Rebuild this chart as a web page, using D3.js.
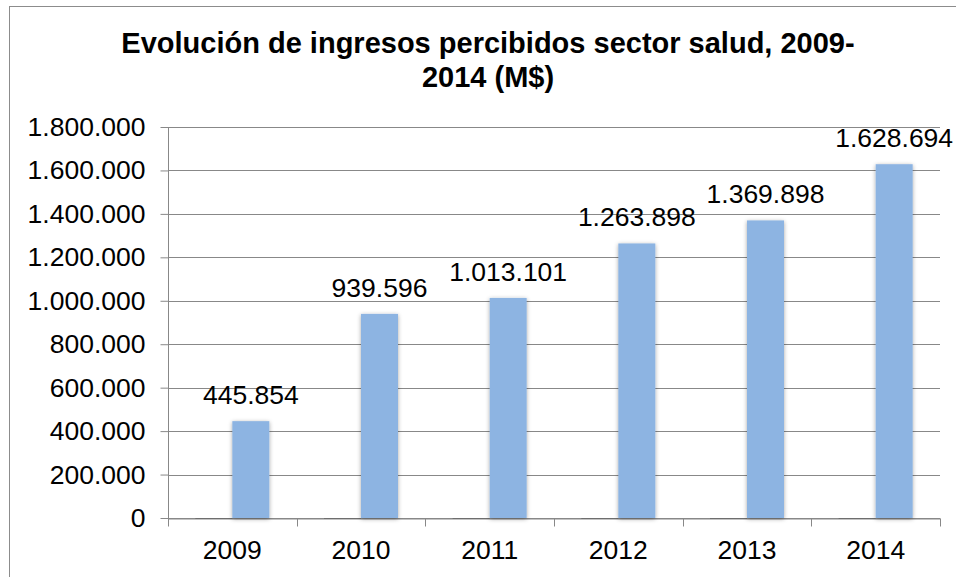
<!DOCTYPE html>
<html>
<head>
<meta charset="utf-8">
<script src="https://cdn.jsdelivr.net/npm/d3@7"></script>
<style>
  body { margin: 0; background: #ffffff; }
  text { font-family: "Liberation Sans", Arial, sans-serif; }
</style>
</head>
<body>
<div id="chart"></div>
<script>
// ----------- Data ----------
var years = ["2009", "2010", "2011", "2012", "2013", "2014"];
var emptySeries = [0, 0, 0, 0, 0, 0];
var ingresos = [445854, 939596, 1013101, 1263898, 1369898, 1628694];
var yTicks = [0, 200000, 400000, 600000, 800000, 1000000, 1200000, 1400000, 1600000, 1800000];
var titleLines = ["Evolución de ingresos percibidos sector salud, 2009-", "2014 (M$)"];

var width = 956, height = 577;
var margin = { left: 168, right: 16, top: 127, bottom: 59 };
var barWidth = 37;

// format 1628694 -> 1.628.694
var fmt = d3.formatLocale({ decimal: ",", thousands: ".", grouping: [3], currency: ["$", ""] }).format(",d");

var svg = d3.select("#chart")
  .append("svg")
  .attr("width", width)
  .attr("height", height);

// soft shadow around the bars
var filter = svg.append("defs").append("filter")
  .attr("id", "shadow")
  .attr("x", "-30%").attr("y", "-10%")
  .attr("width", "160%").attr("height", "120%");
filter.append("feDropShadow")
  .attr("dx", 0).attr("dy", 1)
  .attr("stdDeviation", 2)
  .attr("flood-color", "#000")
  .attr("flood-opacity", 0.35);

// chart border (right / bottom side fall outside the picture)
svg.append("rect")
  .attr("x", 9.5).attr("y", 6.5)
  .attr("width", 1000).attr("height", 700)
  .attr("fill", "none")
  .attr("stroke", "#8c8c8c");

// ----------- Title ----------
svg.append("g")
  .selectAll("text")
  .data(titleLines)
  .enter().append("text")
  .attr("x", 488)
  .attr("y", function(d, i) { return 53 + i * 34; })
  .attr("text-anchor", "middle")
  .style("font-size", "29px")
  .style("font-weight", "bold")
  .text(function(d) { return d; });

// ----------- Scales ----------
var x = d3.scaleBand()
  .domain(years)
  .range([margin.left, width - margin.right]);

var y = d3.scaleLinear()
  .domain([0, 1800000])
  .range([height - margin.bottom, margin.top]);

// ----------- Grid lines ----------
svg.append("g")
  .selectAll("line")
  .data(yTicks)
  .enter().append("line")
  .attr("x1", margin.left)
  .attr("x2", width - margin.right)
  .attr("y1", function(d) { return Math.round(y(d)) + 0.5; })
  .attr("y2", function(d) { return Math.round(y(d)) + 0.5; })
  .attr("stroke", "#888888");

// ----------- Y AXIS ----------
var yAxis = svg.append("g")
  .attr("transform", "translate(" + (margin.left + 0.5) + ",0)")
  .call(d3.axisLeft(y).tickValues(yTicks).tickFormat(fmt).tickSize(8).tickPadding(15));
yAxis.select(".domain").remove();
yAxis.selectAll("line").attr("stroke", "#888888");
yAxis.selectAll("text").style("font-size", "26.5px").attr("fill", "#000");
svg.append("line")
  .attr("x1", margin.left + 0.5).attr("x2", margin.left + 0.5)
  .attr("y1", margin.top).attr("y2", y(0) + 8)
  .attr("stroke", "#888888");

// ----------- X AXIS ----------
var xAxis = svg.append("g")
  .attr("transform", "translate(0," + (Math.round(y(0)) + 0.5) + ")")
  .call(d3.axisBottom(x).tickSize(0).tickPadding(22));
xAxis.select(".domain").attr("stroke", "#888888");
xAxis.selectAll("text").style("font-size", "26.5px").attr("fill", "#000");
// tick marks sit on the category boundaries
xAxis.selectAll(".boundary")
  .data(d3.range(years.length + 1))
  .enter().append("line")
  .attr("class", "boundary")
  .attr("x1", function(i) { return Math.round(margin.left + i * x.step()) + 0.5; })
  .attr("x2", function(i) { return Math.round(margin.left + i * x.step()) + 0.5; })
  .attr("y1", 0).attr("y2", 8)
  .attr("stroke", "#888888");

// ----------- Bars ----------
// empty first series shows as a thin darker line on the base
svg.append("g")
  .selectAll("line")
  .data(emptySeries)
  .enter().append("line")
  .attr("x1", function(d, i) { return x(years[i]) + x.bandwidth() / 2 - barWidth; })
  .attr("x2", function(d, i) { return x(years[i]) + x.bandwidth() / 2; })
  .attr("y1", function(d) { return Math.round(y(d)) + 0.5; })
  .attr("y2", function(d) { return Math.round(y(d)) + 0.5; })
  .attr("stroke", "#6e6e6e");

svg.append("g")
  .attr("filter", "url(#shadow)")
  .selectAll("rect")
  .data(ingresos)
  .enter().append("rect")
  .attr("x", function(d, i) { return x(years[i]) + x.bandwidth() / 2; })
  .attr("y", function(d) { return y(d); })
  .attr("width", barWidth)
  .attr("height", function(d) { return y(0) - y(d); })
  .attr("fill", "#8db4e2");

// ----------- Data labels ----------
svg.append("g")
  .selectAll("text")
  .data(ingresos)
  .enter().append("text")
  .attr("x", function(d, i) { return x(years[i]) + x.bandwidth() / 2 + barWidth / 2; })
  .attr("y", function(d) { return y(d) - 17; })
  .attr("text-anchor", "middle")
  .style("font-size", "26.5px")
  .text(function(d) { return fmt(d); });
</script>
</body>
</html>
